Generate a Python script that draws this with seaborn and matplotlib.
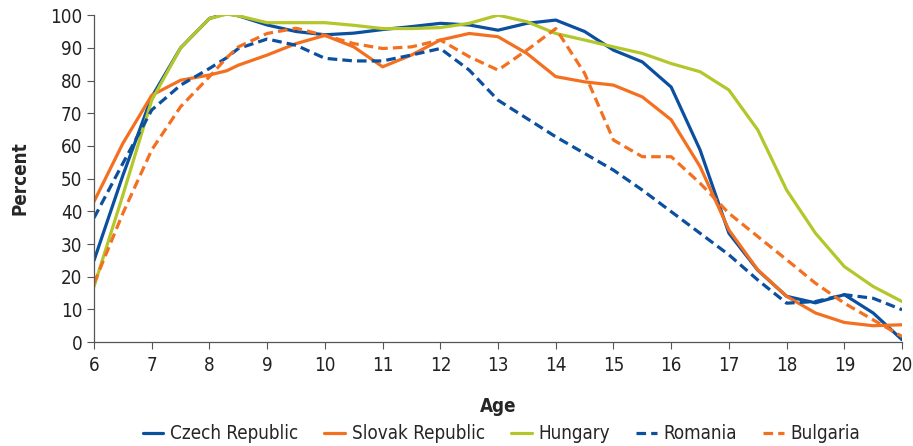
import matplotlib
matplotlib.use("Agg")
import matplotlib.pyplot as plt
import seaborn as sns
import pandas as pd

# values, every half year of age
ages = [6, 6.5, 7, 7.5, 8, 8.3, 8.5, 9, 9.5, 10, 10.5, 11, 11.5, 12, 12.5, 13, 13.5,
        14, 14.5, 15, 15.5, 16, 16.5, 17, 17.5, 18, 18.5, 19, 19.5, 20]

czech = [25, 51, 75, 90, 99, 100.5, 99.8, 97, 95, 94, 94.5, 95.6, 96.5, 97.5, 97,
         95.4, 97.5, 98.5, 95, 89.3, 85.7, 78, 58.8, 33.3, 22, 14, 12, 14.5, 8.9, 0.7]
slovak = [43, 60.8, 75.5, 80.1, 81.7, 83, 84.7, 87.8, 91.3, 93.8, 90.3, 84.2, 87.8, 92.4,
          94.4, 93.4, 88.3, 81.2, 79.6, 78.6, 75, 68, 53.7, 34.3, 22.1, 14, 8.9, 6, 5, 5.3]
hungary = [17, 45, 74, 90, 99, 100.3, 99.8, 97.7, 97.7, 97.7, 96.9, 95.9, 95.9, 96.2,
           97.5, 100, 98, 94.4, 92.4, 90.3, 88.3, 85.2, 82.7, 77.1, 64.9, 46.5, 33.3,
           23.1, 17, 12.4]
romania = [38, 54.7, 71, 78.6, 83.7, 87, 89.8, 92.7, 90.8, 86.8, 86, 86, 87.8, 89.8,
           83.2, 74, 68.4, 62.8, 57.7, 52.6, 46.5, 39.9, 33.3, 26.7, 19, 11.9, 12.4,
           14.5, 13.4, 9.9]
bulgaria = [18, 39.4, 58.8, 72, 81.2, 87, 90.3, 94.4, 96, 93.8, 91.3, 89.8, 90.3, 92.4,
            87.3, 83.2, 89.3, 95.9, 82.2, 61.8, 56.7, 56.7, 48.6, 39.4, 32.3, 25.2, 18,
            11.9, 6.8, 1.7]

series = {
    "Czech Republic": czech,
    "Slovak Republic": slovak,
    "Hungary": hungary,
    "Romania": romania,
    "Bulgaria": bulgaria,
}

blue = "#0b4f9f"
orange = "#f37021"
green = "#b3c72b"
colors = {"Czech Republic": blue, "Slovak Republic": orange, "Hungary": green,
          "Romania": blue, "Bulgaria": orange}
dashes = {"Czech Republic": "", "Slovak Republic": "", "Hungary": "",
          "Romania": (3, 1.6), "Bulgaria": (3, 1.6)}

rows = []
for name, vals in series.items():
    for a, v in zip(ages, vals):
        rows.append({"Age": a, "Percent": v, "Country": name})
df = pd.DataFrame(rows)

sns.set_style("white")
plt.rcParams["font.family"] = ["DejaVu Sans"]
plt.rcParams["font.stretch"] = "condensed"

fig = plt.figure(figsize=(9.13, 4.46), dpi=100)
ax = fig.add_axes([0.103, 0.233, 0.885, 0.733])

sns.lineplot(data=df, x="Age", y="Percent", hue="Country", style="Country",
             palette=colors, dashes=dashes, linewidth=2.3, ax=ax, sort=False)

ax.set_xlim(6, 20)
ax.set_ylim(0, 100)
ax.set_xticks(range(6, 21))
ax.set_yticks(range(0, 101, 10))
ax.tick_params(axis="both", labelsize=13.5, length=5, width=0.8, direction="out",
               bottom=True, left=True, colors="#555555", labelcolor="#222222")
ax.tick_params(axis="x", pad=5)
for s in ["top", "right"]:
    ax.spines[s].set_visible(False)
for s in ["left", "bottom"]:
    ax.spines[s].set_color("#555555")
    ax.spines[s].set_linewidth(0.9)

ax.set_xlabel("Age", fontsize=13.5, fontweight="bold", labelpad=16)
ax.set_ylabel("Percent", fontsize=13.5, fontweight="bold", labelpad=15)

ax.legend(loc="center", bbox_to_anchor=(0.504, -0.28), ncol=5, frameon=False,
          fontsize=13.5, handlelength=1.1, columnspacing=1.4, handletextpad=0.35)

fig.savefig("out.png", dpi=100)
